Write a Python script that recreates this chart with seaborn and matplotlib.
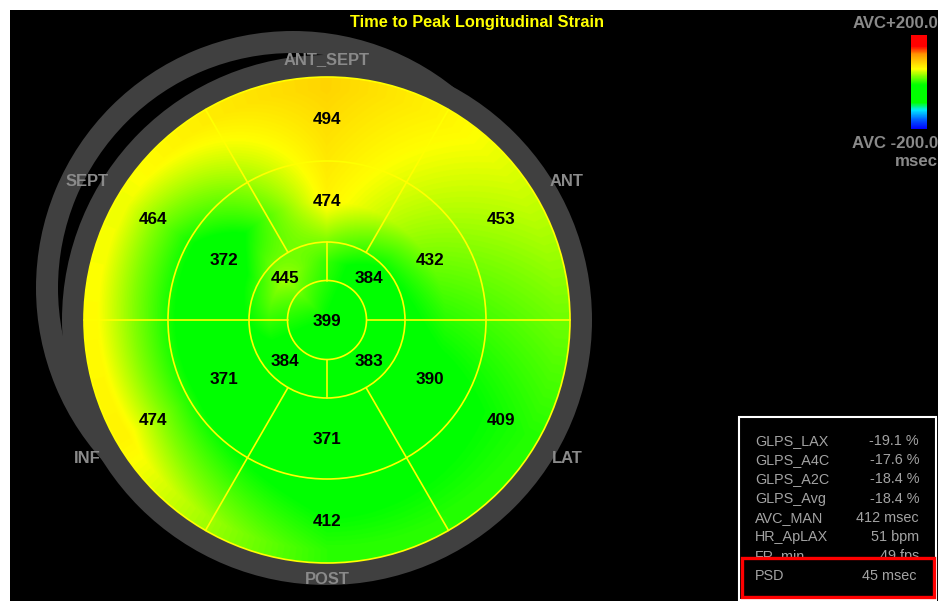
import numpy as np
import matplotlib
matplotlib.use("Agg")
import matplotlib.pyplot as plt
from matplotlib.patches import Circle, Wedge, Rectangle
from matplotlib.colors import LinearSegmentedColormap
import seaborn as sns

sns.set_theme(style="dark")
plt.rcParams["font.family"] = ["Liberation Sans", "DejaVu Sans"]

# ---------------------------------------------------------------- data
TITLE = "Time to Peak Longitudinal Strain"
AVC = 412                      # aortic valve closure, msec
AVC_WINDOW = 200               # colour scale spans AVC +/- this

# wall names and their direction on the bullseye (degrees, counter-clockwise from 3 o'clock)
walls = ["ANT_SEPT", "SEPT", "INF", "POST", "LAT", "ANT"]
wall_angles = [90, 150, 210, 270, 330, 30]

# time to peak strain per segment, msec
basal = [494, 464, 474, 412, 409, 453]
mid = [474, 372, 371, 371, 390, 432]
apical_angles = [135, 225, 315, 45]
apical = [445, 384, 383, 384]
apex = 399

stat_names = ["GLPS_LAX", "GLPS_A4C", "GLPS_A2C", "GLPS_Avg", "AVC_MAN", "HR_ApLAX", "FR_min"]
stat_values = ["-19.1 %", "-17.6 %", "-18.4 %", "-18.4 %", "412 msec", "51 bpm", "49 fps"]
psd_name, psd_value = "PSD", "45 msec"

# ---------------------------------------------------------------- layout (pixels)
W, H = 938, 601
CX, CY = 327, 320
R_APEX, R_APICAL, R_MID, R_OUT = 39.5, 78, 159, 243
R_RING = 265
GRAY = "#404040"
LABEL_GRAY = "#8a8a8a"
STAT_GRAY = "#a3a3a3"

cmap = LinearSegmentedColormap.from_list(
    "avc",
    [(0.00, "#0000ff"), (0.10, "#0060ff"), (0.20, "#00e8ff"),
     (0.28, "#00ff00"), (0.47, "#00ff00"), (0.56, "#80ff00"),
     (0.64, "#ffff00"), (0.71, "#ffd200"), (0.80, "#ff9000"),
     (0.88, "#ff0000"), (1.00, "#ff0000")])
vmin, vmax = AVC - AVC_WINDOW, AVC + AVC_WINDOW

fig = plt.figure(figsize=(W / 100, H / 100), dpi=100, facecolor="white")
ax = fig.add_axes([0, 0, 1, 1])
ax.set_xlim(0, W)
ax.set_ylim(H, 0)
ax.axis("off")

ax.add_patch(Rectangle((10, 10), W - 10, H - 10, facecolor="black", edgecolor="none", zorder=0))

# shadow ring behind the main ring
ax.add_patch(Wedge((293, 288), 257, 0, 360, width=22,
                   facecolor=GRAY, edgecolor="none", zorder=1))
ax.add_patch(Circle((CX, CY), R_RING, facecolor=GRAY, edgecolor="none", zorder=2))

# ---------------------------------------------------------------- interpolated field
g = np.arange(-R_OUT, R_OUT + 1, 0.5)
GX, GY = np.meshgrid(g, g)
rr = np.hypot(GX, GY)
th = np.degrees(np.arctan2(-GY, GX)) % 360


def ring(vals, angs):
    order = np.argsort(angs)
    return np.interp(th, np.asarray(angs, float)[order],
                     np.asarray(vals, float)[order], period=360)


layers = np.stack([np.full_like(th, apex, dtype=float), ring(apical, apical_angles),
                   ring(mid, wall_angles), ring(basal, wall_angles)])
knots = np.array([0.0, 58.0, 119.0, 230.0])
rc = np.clip(rr, 0, knots[-1])
idx = np.clip(np.searchsorted(knots, rc, side="right") - 1, 0, len(knots) - 2)
t = (rc - knots[idx]) / (knots[idx + 1] - knots[idx])
lo = np.take_along_axis(layers, idx[None], 0)[0]
hi = np.take_along_axis(layers, (idx + 1)[None], 0)[0]
field = lo * (1 - t) + hi * t

im = ax.imshow(field, cmap=cmap, vmin=vmin, vmax=vmax, origin="upper",
               extent=(CX - R_OUT, CX + R_OUT, CY + R_OUT, CY - R_OUT),
               interpolation="bilinear", zorder=3)
im.set_clip_path(Circle((CX, CY), R_OUT, transform=ax.transData))

# ---------------------------------------------------------------- segment borders
YEL = "#ffff00"
LW = 1.2
for rad in (R_APEX, R_APICAL, R_MID, R_OUT):
    ax.add_patch(Circle((CX, CY), rad, fill=False, edgecolor=YEL, lw=LW, zorder=4))


def spoke(a, r0, r1):
    a = np.radians(a)
    ax.plot([CX + r0 * np.cos(a), CX + r1 * np.cos(a)],
            [CY - r0 * np.sin(a), CY - r1 * np.sin(a)], color=YEL, lw=LW, zorder=4)


for a in (90, 270):
    spoke(a, R_APEX, R_APICAL)
for a in (0, 180):
    spoke(a, R_APEX, R_OUT)
for a in (60, 120, 240, 300):
    spoke(a, R_APICAL, R_OUT)

# ---------------------------------------------------------------- value labels
vfont = dict(fontsize=12.3, fontweight="bold", color="black", ha="center", va="center", zorder=5)


def put(r, a, s, **kw):
    a = np.radians(a)
    ax.text(CX + r * np.cos(a), CY - r * np.sin(a), s, **kw)


ax.text(CX, CY + 1, str(apex), **vfont)
for a, v in zip(apical_angles, apical):
    put(59, a, str(v), **vfont)
for a, v in zip(wall_angles, mid):
    put(119, a, str(v), **vfont)
for a, v in zip(wall_angles, basal):
    put(201, a, str(v), **vfont)

wfont = dict(fontsize=11.9, fontweight="bold", color=LABEL_GRAY, ha="center", va="center", zorder=5)
for name, a in zip(walls, wall_angles):
    put(260 if a in (90, 270) else 277, a, name, **wfont)

ax.text(477, 23, TITLE, fontsize=11.8, fontweight="bold", color=YEL,
        ha="center", va="center", zorder=5)

# ---------------------------------------------------------------- colour bar
cax = fig.add_axes([911 / W, 1 - 129 / H, 16 / W, 94 / H])
sns.heatmap(np.linspace(vmax, vmin, 256)[:, None], cmap=cmap, vmin=vmin, vmax=vmax,
            cbar=False, xticklabels=False, yticklabels=False, ax=cax)
cax.set_axis_off()

cfont = dict(fontsize=12.1, fontweight="bold", color=LABEL_GRAY, ha="right", va="center", zorder=5)
ax.text(938, 24, f"AVC+{AVC_WINDOW:.1f}", **cfont)
ax.text(938, 143, f"AVC -{AVC_WINDOW:.1f}", **cfont)
ax.text(938, 162, "msec", **cfont)

# ---------------------------------------------------------------- statistics box
ax.add_patch(Rectangle((739, 417), 197, 183, facecolor="black", edgecolor="white",
                       lw=1.5, zorder=5))
sfont = dict(fontsize=10.4, color=STAT_GRAY, va="center", zorder=6)
for i, (n, v) in enumerate(zip(stat_names, stat_values)):
    y = 441 + i * 19.2
    ax.text(755, y, n, ha="left", **sfont)
    ax.text(919, y, v, ha="right", **sfont)
ax.add_patch(Rectangle((742, 558), 192, 39, facecolor="black", edgecolor="#ff0000",
                       lw=2.4, zorder=7))
ax.text(755, 576, psd_name, ha="left", **{**sfont, "zorder": 8})
ax.text(916, 576, psd_value, ha="right", **{**sfont, "zorder": 8})

fig.savefig("out.png", dpi=100, facecolor="white")
